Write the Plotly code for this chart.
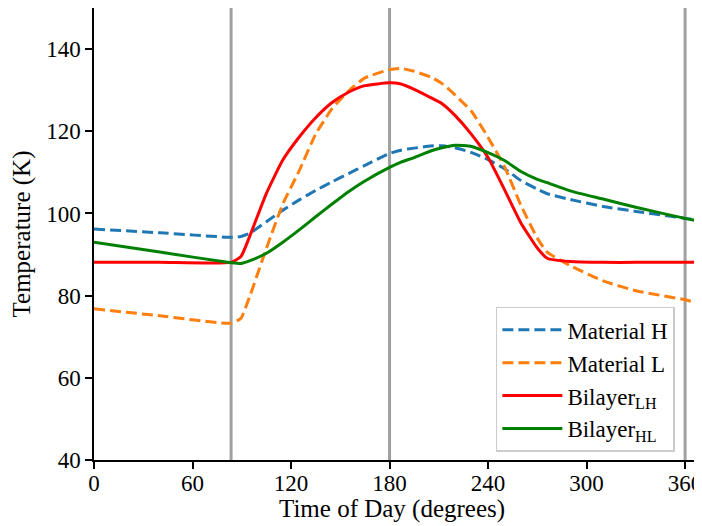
import plotly.graph_objects as go

# Time of day (degrees)
time_deg = [0, 40, 83.5, 89.5, 95, 105, 115, 125, 135, 145, 155, 165, 180, 187,
            195, 205, 212, 220, 230, 240, 250, 260, 270, 276, 290, 310, 330, 360, 370.3]

material_h = [96.2, 95.3, 94.2, 94.4, 95.2, 98.0, 100.8, 103.3, 105.6, 107.7, 109.7, 111.7, 114.6, 115.4,
              115.9, 116.4, 116.5, 116.0, 114.8, 113.1, 110.9, 108.0, 105.9, 104.8, 103.4, 101.7, 100.5, 98.8, 98.3]

material_l = [76.8, 75.1, 73.3, 74.5, 80.0, 91.5, 102.3, 110.4, 119.3, 125.5, 129.8, 133.0, 135.0, 135.3,
              134.6, 133.2, 131.6, 128.8, 124.8, 118.5, 111.4, 102.0, 94.0, 90.6, 87.3, 83.6, 81.2, 79.0, 77.9]

bilayer_lh = [88.1, 88.1, 88.1, 89.5, 94.6, 104.9, 113.0, 118.6, 123.3, 127.0, 129.5, 131.1, 131.8, 131.5,
              130.2, 128.2, 126.7, 123.8, 119.2, 113.6, 105.8, 97.7, 91.6, 89.1, 88.3, 88.1, 88.1, 88.1, 88.1]

bilayer_hl = [93.0, 90.6, 88.0, 87.8, 88.5, 90.3, 93.0, 96.0, 99.2, 102.3, 105.3, 107.9, 111.2, 112.5,
              113.6, 115.2, 116.0, 116.6, 116.3, 114.8, 112.9, 110.2, 108.3, 107.5, 105.5, 103.5, 101.5, 98.8, 98.0]

event_lines = [83.5, 180, 360]

x_ticks = [0, 60, 120, 180, 240, 300, 360]
y_ticks = [40, 60, 80, 100, 120, 140]

FONT = "Liberation Serif"

fig = go.Figure()

series = [
    ("Material H", material_h, "#1f77b4", "11px,5px"),
    ("Material L", material_l, "#ff7f0e", "11px,5px"),
    ("Bilayer<sub>LH</sub>", bilayer_lh, "#ff0000", "solid"),
    ("Bilayer<sub>HL</sub>", bilayer_hl, "#008000", "solid"),
]
for name, vals, color, dash in series:
    fig.add_trace(go.Scatter(x=time_deg, y=vals, mode="lines", name=name,
                             line=dict(color=color, width=3, dash=dash,
                                       shape="spline", smoothing=0.5)))

for xv in event_lines:
    fig.add_shape(type="line", xref="x", yref="paper", x0=xv, x1=xv, y0=0, y1=1,
                  line=dict(color="#a0a0a0", width=3), layer="below")

fig.add_annotation(text="Time of Day (degrees)", xref="paper", yref="paper",
                   x=0.49, y=-0.108, xanchor="center", yanchor="middle",
                   showarrow=False, font=dict(family=FONT, size=25, color="black"))

# the page body adds an 8px offset, so the figure is sized to the remaining area
fig.update_layout(
    width=694, height=518,
    margin=dict(l=86, r=0, t=0, b=66),
    plot_bgcolor="white", paper_bgcolor="white",
    font=dict(family=FONT, size=23, color="black"),
    showlegend=True,
    legend=dict(x=0.661, xanchor="left", y=0.018, yanchor="bottom",
                bgcolor="rgba(255,255,255,0.8)", bordercolor="#cccccc", borderwidth=1.5,
                font=dict(family=FONT, size=23), tracegroupgap=0, itemwidth=60),
    xaxis=dict(range=[0, 370.3], tickvals=x_ticks, ticks="outside", ticklen=7, tickwidth=1.5,
               tickcolor="black", showline=True, linecolor="black", linewidth=1.5, mirror=True,
               showgrid=False, zeroline=False, automargin=False,
               ticklabeloverflow="allow", ticklabelstandoff=-5),
    yaxis=dict(range=[40, 150], tickvals=y_ticks, ticks="outside", ticklen=7, tickwidth=1.5,
               tickcolor="black", showline=True, linecolor="black", linewidth=1.5, mirror=True,
               showgrid=False, zeroline=False, automargin=False,
               title=dict(text="Temperature (K)", standoff=12, font=dict(size=25))),
)

fig.write_html("out.html")
